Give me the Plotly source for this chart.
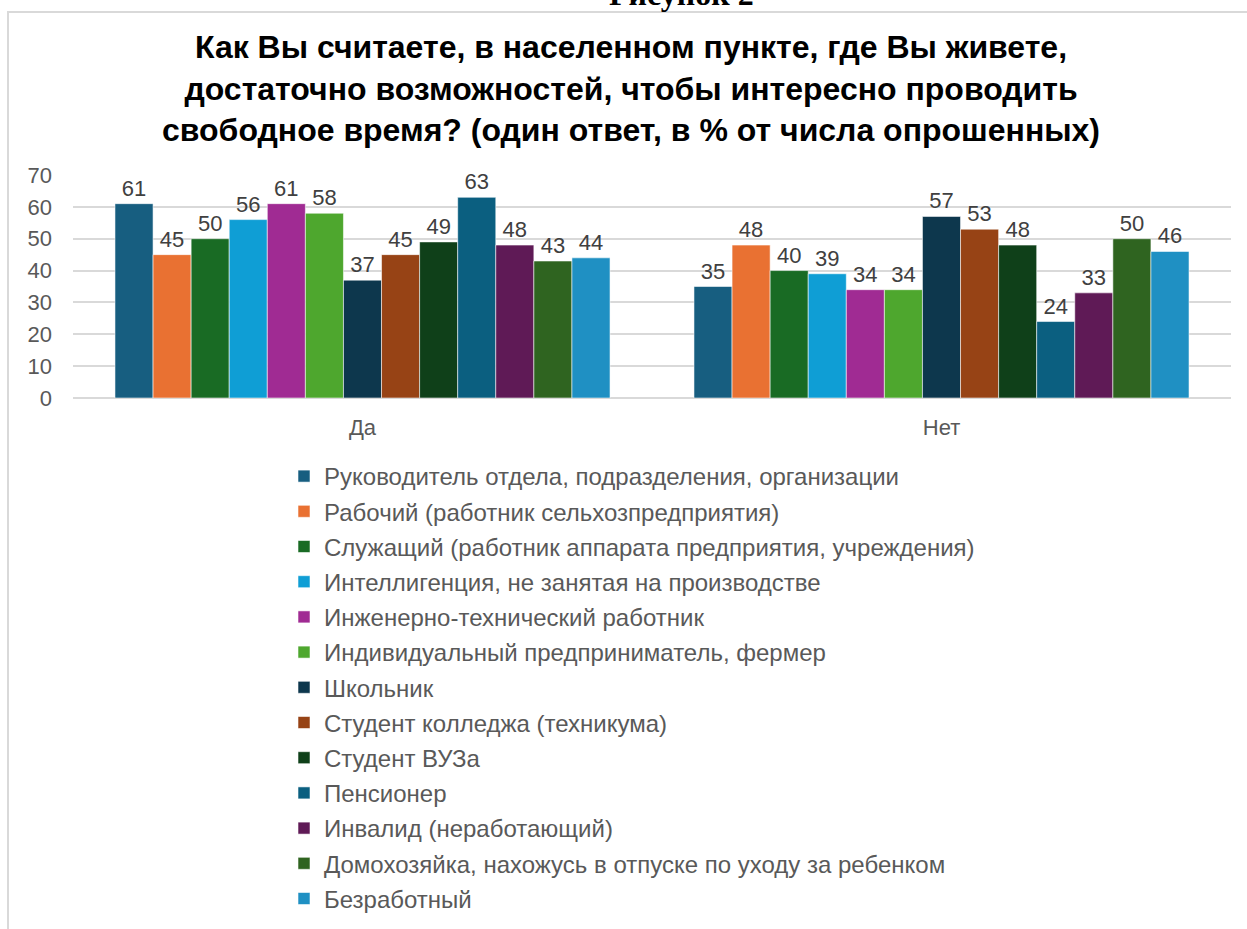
import plotly.graph_objects as go

categories = ["Да", "Нет"]

series_names = [
    "Руководитель отдела, подразделения, организации",
    "Рабочий (работник сельхозпредприятия)",
    "Служащий (работник аппарата предприятия, учреждения)",
    "Интеллигенция, не занятая на производстве",
    "Инженерно-технический работник",
    "Индивидуальный предприниматель, фермер",
    "Школьник",
    "Студент колледжа (техникума)",
    "Студент ВУЗа",
    "Пенсионер",
    "Инвалид (неработающий)",
    "Домохозяйка, нахожусь в отпуске по уходу за ребенком",
    "Безработный",
]

values_da = [61, 45, 50, 56, 61, 58, 37, 45, 49, 63, 48, 43, 44]
values_net = [35, 48, 40, 39, 34, 34, 57, 53, 48, 24, 33, 50, 46]

colors = [
    "#175E80", "#E97132", "#196B24", "#0F9ED5", "#A02B93", "#4EA72E",
    "#0D374D", "#974315", "#0F4019", "#0B5F80", "#5F1A56", "#2F6420", "#1F90C3",
]

title_text = ("Как Вы считаете, в населенном пункте, где Вы живете,<br>"
              "достаточно возможностей, чтобы интересно проводить<br>"
              "свободное время? (один ответ, в % от числа опрошенных)")

W, H = 1247, 929
L, R, T, B = 73, 1231, 175, 398  # plot area in px

FONT = "Liberation Sans, Arial"


def xp(px):
    return (px - L) / (R - L)


def yp(py):
    return (B - py) / (B - T)


fig = go.Figure()
for name, c, a, b in zip(series_names, colors, values_da, values_net):
    fig.add_trace(go.Bar(
        x=categories, y=[a, b], name=name, legendgroup=name,
        marker=dict(color=c, line=dict(color="rgba(255,255,255,0.55)", width=1)),
        text=[a, b], texttemplate="%{y:.0f}", textposition="outside",
        textfont=dict(family=FONT, size=22, color="#404040"),
        cliponaxis=False,
    ))

fig.update_layout(
    width=W, height=H,
    margin=dict(l=L, r=W - R, t=T, b=H - B, pad=0, autoexpand=False),
    paper_bgcolor="white", plot_bgcolor="white",
    barmode="group", bargap=0.145, bargroupgap=0,
    font=dict(family=FONT, size=22, color="#595959"),
    title=dict(text="<b>" + title_text + "</b>", x=631 / W, xanchor="center",
               y=1 - 58 / H, yanchor="middle", yref="container",
               font=dict(family=FONT, size=32, color="#000000")),
    xaxis=dict(showline=False, ticks="", tickfont=dict(size=22, color="#595959"),
               showgrid=False, ticklabelstandoff=14),
    yaxis=dict(range=[0, 70], dtick=10, showgrid=True, gridcolor="#D9D9D9",
               gridwidth=1.5, zeroline=True, zerolinecolor="#D9D9D9", zerolinewidth=1.5,
               ticks="", tickfont=dict(size=22, color="#595959"), ticklabelstandoff=20),
    showlegend=True,
    legend=dict(x=xp(284), xanchor="left", y=yp(454), yanchor="top",
                orientation="v", tracegroupgap=1, traceorder="grouped",
                maxheight=700,
                font=dict(size=24, color="#595959"), bgcolor="rgba(0,0,0,0)"),
    shapes=[dict(type="rect", xref="paper", yref="paper",
                 x0=xp(8), x1=xp(1260), y0=yp(940), y1=yp(12),
                 line=dict(color="#D9D9D9", width=2), fillcolor="rgba(0,0,0,0)",
                 layer="below")],
    annotations=[dict(text="<b>Рисунок 2</b>", xref="paper", yref="paper",
                      x=xp(681), y=yp(14), xanchor="center", yanchor="bottom",
                      showarrow=False,
                      font=dict(family="Liberation Serif, Times New Roman", size=32,
                                color="#000000"))],
)

fig.write_html("out.html")
